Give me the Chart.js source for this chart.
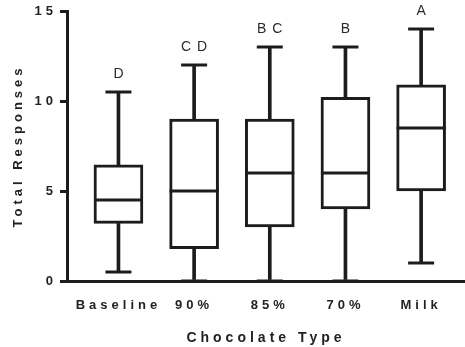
<!DOCTYPE html>
<html>
<head>
<meta charset="utf-8">
<script src="https://cdn.jsdelivr.net/npm/chart.js@4/dist/chart.umd.min.js"></script>
<style>
  html, body { margin: 0; padding: 0; background: #fff; }
  #wrap { width: 465px; height: 347px; position: relative; }
</style>
</head>
<body>
<div id="wrap"><canvas id="chart"></canvas></div>
<script>
// data (box plot: min / Q1 / median / Q3 / max)
const categories = ['Baseline', '90%', '85%', '70%', 'Milk'];
const mins    = [0.5, 0, 0, 0, 1];
const q1s     = [3.2, 1.8, 3, 4, 5];
const medians = [4.5, 5, 6, 6, 8.5];
const q3s     = [6.45, 9, 9, 10.2, 10.9];
const maxs    = [10.5, 12, 13, 13, 14];
const sigLetters = ['D', 'C D', 'B C', 'B', 'A'];
const yTicks = [0, 5, 10, 15];

const INK = '#1c1c1c';
const FONT = '"Liberation Sans", Arial, sans-serif';

// canvas letter spacing for the spaced-out GraphPad style text
const spacing = {
  id: 'spacing',
  beforeLayout(chart) { chart.ctx.letterSpacing = '4px'; },
  beforeDraw(chart) { chart.ctx.letterSpacing = '4px'; }
};

// significance letters above each whisker
const letters = {
  id: 'letters',
  afterDraw(chart) {
    const { ctx, scales: { x, y } } = chart;
    ctx.save();
    ctx.letterSpacing = '1px';
    ctx.font = '14px ' + FONT;
    ctx.fillStyle = '#2a2a2a';
    ctx.textAlign = 'center';
    ctx.textBaseline = 'middle';
    sigLetters.forEach((t, i) => {
      ctx.fillText(t, x.getPixelForValue(i) + 0.5, y.getPixelForValue(maxs[i]) - 18);
    });
    ctx.restore();
  }
};

const pts = arr => arr.map((v, i) => ({ x: i, y: v }));

new Chart(document.getElementById('chart'), {
  type: 'bar',
  data: {
    datasets: [
      { // upper whiskers
        data: categories.map((_, i) => ({ x: i, y: [q3s[i], maxs[i]] })),
        backgroundColor: INK, barThickness: 3, grouped: false, order: 5
      },
      { // lower whiskers
        data: categories.map((_, i) => ({ x: i, y: [mins[i], q1s[i]] })),
        backgroundColor: INK, barThickness: 3, grouped: false, order: 5
      },
      { // boxes
        data: categories.map((_, i) => ({ x: i, y: [q1s[i], q3s[i]] })),
        backgroundColor: '#fff', borderColor: INK, borderWidth: 3,
        borderSkipped: false, barThickness: 49, grouped: false, order: 3
      },
      { // medians
        type: 'scatter', data: pts(medians),
        pointStyle: 'line', radius: 24.5, borderWidth: 3, borderColor: INK, order: 1
      },
      { // caps
        type: 'scatter', data: pts(maxs).concat(pts(mins)),
        pointStyle: 'line', radius: 13, borderWidth: 3, borderColor: INK, order: 1
      }
    ]
  },
  options: {
    responsive: true,
    maintainAspectRatio: false,
    animation: false,
    events: [],
    layout: { autoPadding: false, padding: { top: 11, right: 0, left: 0, bottom: 0 } },
    plugins: { legend: { display: false }, tooltip: { enabled: false } },
    scales: {
      x: {
        type: 'linear',
        offset: false,
        min: -0.68,
        max: 4.58,
        afterBuildTicks: s => { s.ticks = categories.map((_, i) => ({ value: i })); },
        afterFit: s => { s.height = 66; },
        grid: { display: false, drawTicks: false },
        border: { display: true, width: 3, color: INK },
        ticks: {
          autoSkip: false,
          maxRotation: 0,
          padding: 17,
          color: '#222',
          font: { family: FONT, size: 13, weight: 'bold' },
          callback: v => categories[v]
        },
        title: {
          display: true,
          text: 'Chocolate Type',
          color: '#222',
          font: { family: FONT, size: 14, weight: 'bold' },
          padding: { top: 0, bottom: 0 }
        }
      },
      y: {
        min: 0,
        max: 15,
        afterBuildTicks: s => { s.ticks = yTicks.map(v => ({ value: v })); },
        afterFit: s => { s.width = 67; },
        grid: { drawOnChartArea: false, drawTicks: true, tickLength: 7, lineWidth: 3, color: INK },
        border: { display: true, width: 3, color: INK },
        ticks: {
          padding: 3,
          color: '#222',
          font: { family: FONT, size: 13, weight: 'bold' }
        },
        title: {
          display: true,
          text: 'Total Responses',
          color: '#222',
          font: { family: FONT, size: 13, weight: 'bold' },
          padding: { top: 11, bottom: 0 }
        }
      }
    }
  },
  plugins: [spacing, letters]
});
</script>
</body>
</html>
